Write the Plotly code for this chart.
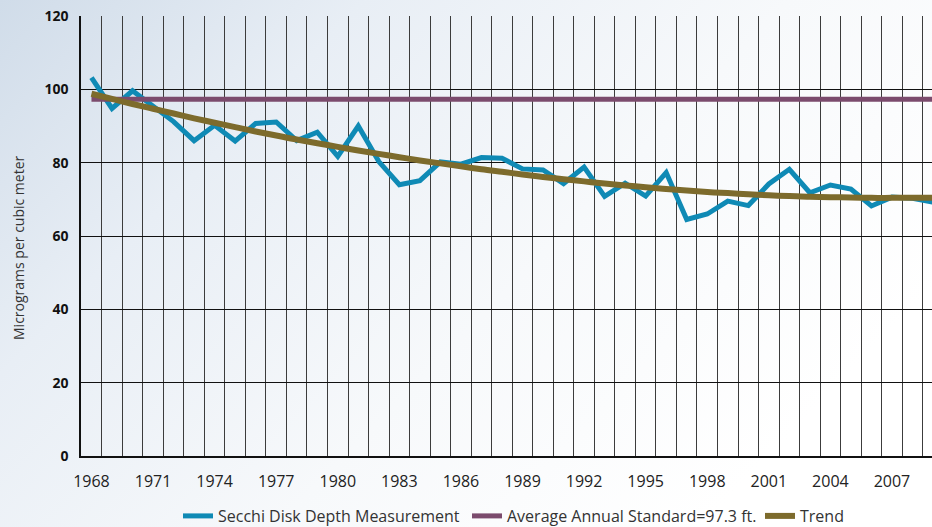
import base64
import plotly.graph_objects as go

# Annual values, 1968-2009
years = list(range(1968, 2010))

secchi = [103.2, 94.8, 99.6, 95.5, 91.2, 86.0, 90.2, 85.9, 90.7, 91.1,
          86.0, 88.3, 81.7, 90.0, 80.3, 74.0, 75.1, 80.2, 79.6, 81.4,
          81.2, 78.3, 78.0, 74.3, 78.8, 70.8, 74.4, 70.9, 77.3, 64.5,
          66.0, 69.5, 68.3, 74.2, 78.2, 71.8, 73.9, 72.8, 68.2, 70.6,
          70.3, 69.2]

standard_value = 97.3
standard = [standard_value] * len(years)

trend = [98.8, 97.4, 96.0, 94.7, 93.4, 92.1, 90.9, 89.7, 88.5, 87.4,
         86.3, 85.3, 84.3, 83.3, 82.4, 81.5, 80.6, 79.8, 79.0, 78.2,
         77.5, 76.8, 76.1, 75.5, 74.9, 74.3, 73.8, 73.3, 72.8, 72.4,
         72.0, 71.7, 71.4, 71.1, 70.9, 70.7, 70.6, 70.5, 70.4, 70.4,
         70.4, 70.4]

tick_years = list(range(1968, 2008, 3))
tick_labels = [str(y) for y in tick_years]
y_ticks = [0, 20, 40, 60, 80, 100, 120]

W, H = 932, 527
FONT = "Open Sans"

# Soft blue-to-white page background
svg = (
    f'<svg xmlns="http://www.w3.org/2000/svg" width="{W}" height="{H}" '
    f'preserveAspectRatio="none">'
    '<defs><linearGradient id="g" x1="0" y1="0" x2="1" y2="0.55">'
    '<stop offset="0" stop-color="#d0dce9"/>'
    '<stop offset="0.3" stop-color="#e8eef5"/>'
    '<stop offset="0.65" stop-color="#f7f9fb"/>'
    '<stop offset="1" stop-color="#ffffff"/>'
    '</linearGradient></defs>'
    f'<rect width="{W}" height="{H}" fill="url(#g)"/></svg>'
)
bg_uri = "data:image/svg+xml;base64," + base64.b64encode(svg.encode()).decode()

fig = go.Figure()

fig.add_trace(go.Scatter(
    x=years, y=secchi, mode="lines", name="Secchi Disk Depth Measurement",
    line=dict(color="#0f8ab5", width=5), legend="legend",
))
fig.add_trace(go.Scatter(
    x=years, y=standard, mode="lines",
    name=f"Average Annual Standard={standard_value} ft.",
    line=dict(color="#7b4b6d", width=5), legend="legend2",
))
fig.add_trace(go.Scatter(
    x=years, y=trend, mode="lines", name="Trend", line_shape="spline",
    line=dict(color="#7d6b2c", width=6), legend="legend3",
))

legend_common = dict(
    orientation="h", yanchor="middle", y=(H - 516) / H, xanchor="left",
    bgcolor="rgba(0,0,0,0)", font=dict(family=FONT, size=16, color="#333333"),
    itemwidth=30, tracegroupgap=0,
)

fig.update_layout(
    width=W, height=H,
    margin=dict(l=0, r=0, t=0, b=0, autoexpand=False),
    paper_bgcolor="white",
    plot_bgcolor="rgba(0,0,0,0)",
    images=[dict(source=bg_uri, xref="paper", yref="paper", x=0, y=1,
                 sizex=1, sizey=1, sizing="stretch", xanchor="left",
                 yanchor="top", layer="below")],
    xaxis=dict(
        domain=[81 / W, 1.0],
        range=[1967.49, 2008.95],
        automargin=False,
        tickmode="array", tickvals=tick_years, ticktext=tick_labels,
        showgrid=False, zeroline=False,
        ticks="", ticklabelstandoff=10,
        tickfont=dict(family=FONT, size=16, color="#222222"),
        showline=True, linecolor="#111111", linewidth=1.5,
        minor=dict(tickmode="linear", tick0=1968.5, dtick=1, showgrid=True,
                   gridcolor="#3c3c3c", gridwidth=1.2, ticks=""),
    ),
    yaxis=dict(
        domain=[(H - 456) / H, (H - 16) / H],
        range=[0, 120],
        automargin=False,
        tickmode="array", tickvals=y_ticks,
        showgrid=True, gridcolor="#111111", gridwidth=1.2,
        zeroline=False, ticks="", ticklabelstandoff=8,
        tickfont=dict(family=FONT, size=14, color="#111111", weight="bold"),
        showline=True, linecolor="#111111", linewidth=1.5,
    ),
    annotations=[dict(
        text="Micrograms per cubic meter", textangle=-90,
        xref="paper", yref="paper", x=18 / W, y=(H - 248) / H,
        xanchor="center", yanchor="middle", showarrow=False,
        font=dict(family=FONT, size=14, color="#333333"),
    )],
    legend=dict(legend_common, x=178 / W),
    legend2=dict(legend_common, x=467 / W),
    legend3=dict(legend_common, x=760 / W),
    showlegend=True,
)

fig.write_html("out.html")
